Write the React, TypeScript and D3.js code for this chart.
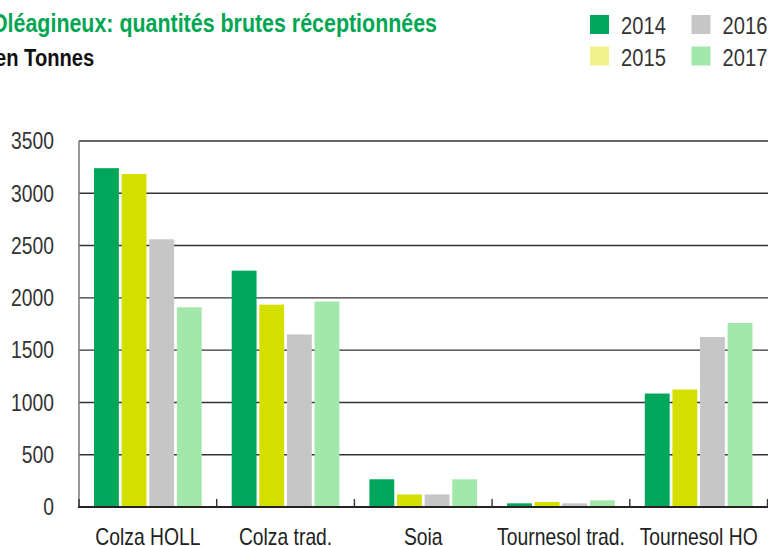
import React, { useEffect } from 'react';
import * as d3 from 'd3';

const categories = ['Colza HOLL', 'Colza trad.', 'Soia', 'Tournesol trad.', 'Tournesol HO'];
const years = ['2014', '2015', '2016', '2017'];
const values2014 = [3240, 2260, 265, 35, 1085];
const values2015 = [3185, 1935, 120, 48, 1123];
const values2016 = [2560, 1650, 120, 35, 1626];
const values2017 = [1910, 1965, 265, 64, 1760];
const yTicks = [0, 500, 1000, 1500, 2000, 2500, 3000, 3500];

const barColors = ['#00a659', '#d4df00', '#c5c6c5', '#a2e8ab'];
const legendColors = ['#00a659', '#eff18c', '#c5c6c5', '#a2e8ab'];

const W = 768;
const H = 546;
const font = '"Liberation Sans", Arial, sans-serif';
const NARROW = 0.84;

// condensed look: Liberation Sans squeezed horizontally
function NText({ x, y, anchor = 'start', size, weight = 'normal', fill, dy, children }: any) {
  return (
    <g transform={`translate(${x},${y}) scale(${NARROW},1)`}>
      <text textAnchor={anchor} fontSize={size} fontWeight={weight} fill={fill} dy={dy}>
        {children}
      </text>
    </g>
  );
}

export default function App() {
  useEffect(() => {
    document.body.style.margin = '0';
  }, []);

  const series = [values2014, values2015, values2016, values2017];

  const x = d3.scaleBand<string>().domain(categories).range([79, 767.5]).padding(0);
  const xInner = d3.scaleBand<string>().domain(years).range([15, x.bandwidth() - 15]).paddingInner(0.1);
  const y = d3.scaleLinear().domain([0, 3500]).range([507, 141]);

  const boundaries = categories.map(c => x(c)!).concat([x.range()[1]]);

  return (
    <svg width={W} height={H} style={{ display: 'block', fontFamily: font }}>
      <rect width={W} height={H} fill="#fff" />

      <NText x={437} y={32} anchor="end" size={25.5} weight="bold" fill="#00a651">
        Oléagineux: quantités brutes réceptionnées
      </NText>
      <NText x={-5} y={66} size={24} weight="bold" fill="#111">
        en Tonnes
      </NText>

      {years.map((yr, i) => {
        const lx = i < 2 ? 590 : 691.5;
        const ly = i % 2 === 0 ? 15 : 46.5;
        return (
          <g key={yr}>
            <rect x={lx} y={ly} width={19} height={19} fill={legendColors[i]} />
            <NText x={lx + 31} y={ly + 19} size={24} fill="#333">{yr}</NText>
          </g>
        );
      })}

      {yTicks.filter(t => t > 0).map(t => (
        <line key={t} x1={79} x2={W} y1={y(t)} y2={y(t)} stroke="#333" strokeWidth={1.4} />
      ))}

      {series.map((vals, si) => (
        <g key={years[si]} fill={barColors[si]}>
          {categories.map((c, ci) => (
            <rect
              key={c}
              x={x(c)! + xInner(years[si])!}
              y={y(vals[ci])}
              width={xInner.bandwidth()}
              height={y(0) - y(vals[ci])}
            />
          ))}
        </g>
      ))}

      <line x1={79} x2={79} y1={y(3500)} y2={y(0)} stroke="#777" strokeWidth={1.5} />
      <line x1={78} x2={W} y1={y(0)} y2={y(0)} stroke="#222" strokeWidth={2} />
      {boundaries.map((b, i) => (
        <line key={i} x1={b} x2={b} y1={y(0) - 8} y2={y(0)} stroke="#333" strokeWidth={1.4} />
      ))}

      {yTicks.map(t => (
        <NText key={t} x={54} y={y(t)} dy="0.36em" anchor="end" size={23} fill="#333">
          {t}
        </NText>
      ))}

      {categories.map(c => (
        <NText key={c} x={x(c)! + x.bandwidth() / 2} y={545} anchor="middle" size={23} fill="#222">
          {c}
        </NText>
      ))}
    </svg>
  );
}
